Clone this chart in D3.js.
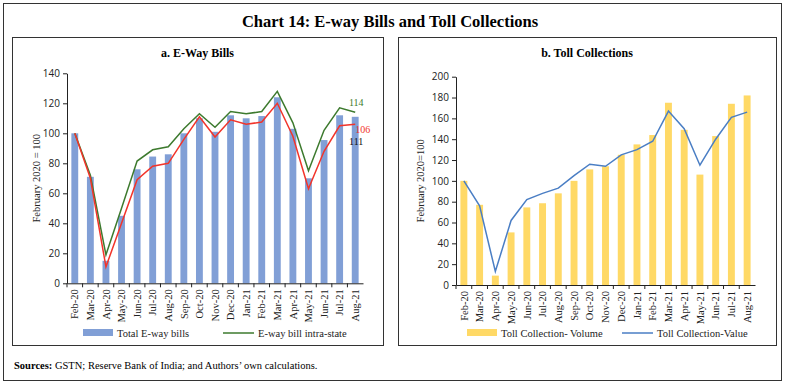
<!DOCTYPE html>
<html>
<head>
<meta charset="utf-8">
<script src="https://cdn.jsdelivr.net/npm/d3@7"></script>
<style>
  body { margin: 0; background: #fff; }
  svg { display: block; }
  .serif { font-family: "Liberation Serif", "DejaVu Serif", serif; }
  .tick text { font-family: "Open Sans", "Liberation Sans", sans-serif; }
</style>
</head>
<body>
<script>
// months on both panels
const months = ["Feb-20","Mar-20","Apr-20","May-20","Jun-20","Jul-20","Aug-20","Sep-20","Oct-20",
  "Nov-20","Dec-20","Jan-21","Feb-21","Mar-21","Apr-21","May-21","Jun-21","Jul-21","Aug-21"];

// panel a: e-way bills (Feb 2020 = 100)
const ewayTotal = [100,71,15,45,76,84.5,86,100,110,101,112,110,111.5,124,103,70,95.5,112,111];
const ewayIntra = [100,72,19,50,81.5,89,91,103,113,104,114.5,113,114.5,128,107,75,102,117,114];
const ewayInter = [100,70,11,40,69,78,80,96,111,97.5,109,106,107.5,120,98,63,88,105,106];
const ewayTicks = [0,20,40,60,80,100,120,140];

// panel b: toll collections
const tollVolume = [100,77,9,50.5,74.5,78.5,88,100,111,114,125,135,144,175,149,106,143,174,182];
const tollValue = [100,76,13,62,82,88,93,105,116,114,125,130,138,167,150,115,140,161,166];
const tollTicks = [0,20,40,60,80,100,120,140,160,180,200];

const W = 785, H = 384;
const svg = d3.select('body').append('svg').attr('width', W).attr('height', H);

// outer frame
svg.append('rect').attr('x', 3.5).attr('y', 3.5).attr('width', 778).attr('height', 377)
   .attr('fill', 'none').attr('stroke', '#333').attr('stroke-width', 1);

svg.append('text').attr('class', 'serif')
   .attr('x', 390).attr('y', 27).attr('text-anchor', 'middle')
   .style('font-size', '16.5px').style('font-weight', 600)
   .text('Chart 14: E-way Bills and Toll Collections');

const src = svg.append('text').attr('class', 'serif').attr('x', 14).attr('y', 369)
   .style('font-size', '10.5px');
src.append('tspan').style('font-weight', 'bold').text('Sources:');
src.append('tspan').text(' GSTN; Reserve Bank of India; and Authors\u2019 own calculations.');

function panel(cfg) {
  const g = svg.append('g');
  g.append('rect').attr('x', cfg.box[0] + 0.5).attr('y', 37.5)
   .attr('width', cfg.box[1] - cfg.box[0]).attr('height', 308)
   .attr('fill', 'none').attr('stroke', '#333');

  g.append('text').attr('class', 'serif')
   .attr('x', (cfg.box[0] + cfg.box[1]) / 2).attr('y', 57).attr('text-anchor', 'middle')
   .style('font-size', '12px').style('font-weight', 'bold')
   .text(cfg.title);

  const x = d3.scaleBand().domain(months).range([cfg.x0, cfg.x1]).paddingInner(0.56).paddingOuter(0.28);
  const y = d3.scaleLinear().domain([0, cfg.ymax]).range([cfg.y0, cfg.y1]);

  g.selectAll('rect.bar').data(cfg.bars).enter().append('rect')
   .attr('class', 'bar')
   .attr('x', (d, i) => x(months[i]))
   .attr('width', x.bandwidth())
   .attr('y', d => y(d))
   .attr('height', d => y(0) - y(d))
   .attr('fill', cfg.barColor);

  const line = d3.line().x((d, i) => x(months[i]) + x.bandwidth() / 2).y(d => y(d));
  cfg.lines.forEach(l => {
    g.append('path').datum(l.values).attr('d', line)
     .attr('fill', 'none').attr('stroke', l.color).attr('stroke-width', 1.5);
  });

  const yAxis = d3.axisLeft(y).tickValues(cfg.ticks).tickSize(4).tickSizeOuter(0);
  const ya = g.append('g').attr('transform', `translate(${cfg.x0},0)`).call(yAxis);
  ya.selectAll('text').style('font-size', '10px').attr('fill', '#222');
  ya.select('.domain').attr('stroke', '#222');
  ya.selectAll('.tick line').attr('stroke', '#222');

  const xAxis = d3.axisBottom(x).tickSize(4).tickSizeOuter(0);
  const xa = g.append('g').attr('transform', `translate(0,${cfg.y0})`).call(xAxis);
  xa.select('.domain').attr('stroke', '#222');
  xa.selectAll('.tick line').attr('stroke', '#222').attr('transform', `translate(${-x.step() / 2},0)`);
  xa.selectAll('text')
    .attr('class', 'serif')
    .style('font-family', '"Liberation Serif", serif')
    .style('font-size', '10.5px').attr('fill', '#222')
    .attr('transform', 'rotate(-90)')
    .attr('text-anchor', 'end')
    .attr('x', -6).attr('y', 0).attr('dy', '0.35em');

  g.append('text').attr('class', 'serif')
   .attr('transform', `translate(${cfg.ylabelX},${(cfg.y0 + cfg.y1) / 2}) rotate(-90)`)
   .attr('text-anchor', 'middle')
   .style('font-size', '10.5px').attr('fill', '#222')
   .text(cfg.ylabel);

  // legend
  const ly = 333;
  g.append('rect').attr('x', cfg.leg[0]).attr('y', ly - 4).attr('width', 30).attr('height', 7)
   .attr('fill', cfg.barColor);
  g.append('text').attr('class', 'serif').attr('x', cfg.leg[0] + 34).attr('y', ly + 3.5)
   .style('font-size', '10.5px').attr('fill', '#222').text(cfg.legText[0]);
  g.append('line').attr('x1', cfg.leg[1]).attr('x2', cfg.leg[1] + 31).attr('y1', ly).attr('y2', ly)
   .attr('stroke', cfg.lines[0].color).attr('stroke-width', 1.5);
  g.append('text').attr('class', 'serif').attr('x', cfg.leg[1] + 35).attr('y', ly + 3.5)
   .style('font-size', '10.5px').attr('fill', '#222').text(cfg.legText[1]);

  return { x, y, g };
}

const a = panel({
  box: [12, 383], title: 'a. E-Way Bills',
  x0: 67, x1: 363, y0: 283.3, y1: 73.3, ymax: 140, ticks: ewayTicks,
  bars: ewayTotal, barColor: '#819fd6',
  lines: [{ values: ewayIntra, color: '#3d7a2e' }, { values: ewayInter, color: '#f2342a' }],
  ylabel: 'February 2020 = 100', ylabelX: 40,
  leg: [83, 223], legText: ['Total E-way bills', 'E-way bill intra-state']
});

// end-point labels
const lastIdx = months.length - 1;
const lx = a.x(months[lastIdx]) + a.x.bandwidth() / 2;
a.g.append('text').attr('class', 'serif').attr('x', lx + 1).attr('y', a.y(ewayIntra[lastIdx]) - 6)
 .attr('text-anchor', 'middle').style('font-size', '10px').attr('fill', '#3d7a2e').text(ewayIntra[lastIdx]);
a.g.append('text').attr('class', 'serif').attr('x', lx + 7.5).attr('y', a.y(ewayInter[lastIdx]) + 9)
 .attr('text-anchor', 'middle').style('font-size', '10px').attr('fill', '#f2342a').text(ewayInter[lastIdx]);
a.g.append('text').attr('class', 'serif').attr('x', lx + 1).attr('y', a.y(ewayTotal[lastIdx]) + 28)
 .attr('text-anchor', 'middle').style('font-size', '10px').attr('fill', '#111').text(ewayTotal[lastIdx]);

panel({
  box: [398, 776], title: 'b. Toll Collections',
  x0: 456, x1: 755, y0: 285, y1: 76.7, ymax: 200, ticks: tollTicks,
  bars: tollVolume, barColor: '#ffd966',
  lines: [{ values: tollValue, color: '#4a7ec4' }],
  ylabel: 'February 2020=100', ylabelX: 424,
  leg: [467, 622], legText: ['Toll Collection- Volume', 'Toll Collection-Value']
});
</script>
</body>
</html>
